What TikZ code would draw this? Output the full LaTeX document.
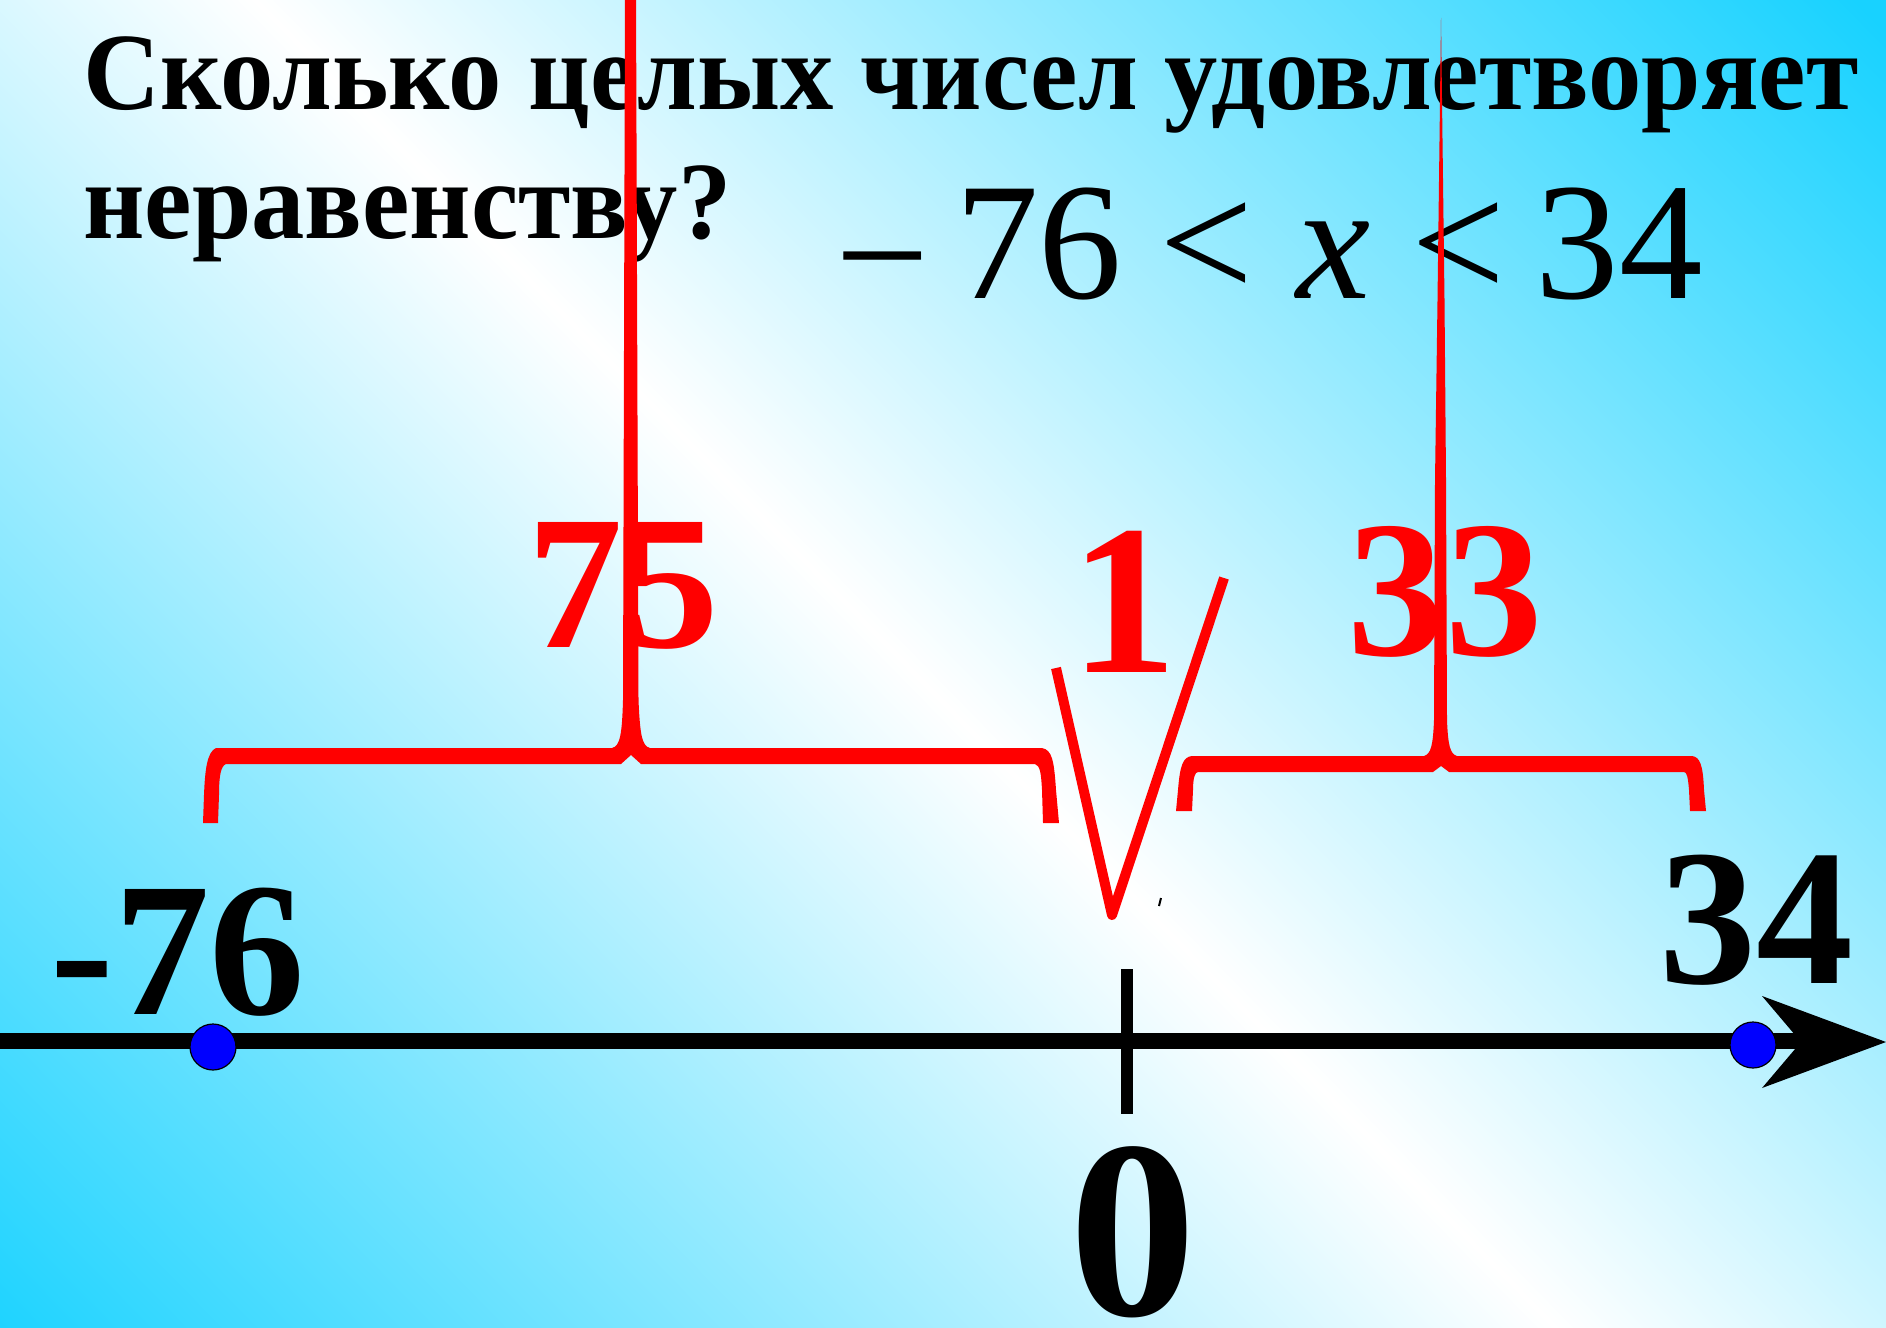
\documentclass[tikz,border=0pt]{standalone}
\usepackage{fontspec}
\setmainfont{Liberation Serif}
\usepackage{graphicx}
\definecolor{bgcyan}{RGB}{24,210,255}
\definecolor{pred}{RGB}{255,0,0}
\definecolor{pblue}{RGB}{0,0,255}
\begin{document}
\begin{tikzpicture}[x=1pt,y=-1pt,
  txt/.style={inner sep=0pt, outer sep=0pt},
  redfill/.style={fill=pred, draw=none},
  redlbl/.style={txt, text=pred, font=\bfseries},
  blklbl/.style={txt, text=black, font=\bfseries},
  dotmark/.style={circle, fill=pblue, draw=black, line width=1.2pt, minimum size=46pt, inner sep=0pt}]
\useasboundingbox (0,0) rectangle (1886,1327);
% background gradient
\begin{scope}
\clip (0,0) rectangle (1886,1327);
\shade[top color=bgcyan, bottom color=bgcyan, middle color=white, shading angle=-45.6]
  (-245,-486.5) rectangle (2055,1813.5);
\end{scope}
% title
\node[txt, anchor=base west] (title1) at (83.5,110)
  {\resizebox{1775pt}{\height}{\fontsize{110}{110}\selectfont\bfseries Сколько целых чисел удовлетворяет}};
\node[txt, anchor=base west] (title2) at (83.5,238)
  {\resizebox{648pt}{\height}{\fontsize{110}{110}\selectfont\bfseries неравенству?}};
% inequality
\node[txt, anchor=base west] (ineq) at (835,298)
  {\fontsize{167}{167}\selectfont \raisebox{-13pt}{−}\hspace{26pt}76\hspace{37pt}<\hspace{43pt}\textit{x}\hspace{41pt}<\hspace{30pt}34};
% red brace 1
\fill[pred] (203,823) -- (204,795) .. controls (205,770) and (207,752) .. (216,748)
  -- (612,748) .. controls (620,746) and (622,735) .. (623,700)
  -- (625,-5) -- (636,-5)
  -- (638.5,700) .. controls (640,735) and (642,746) .. (650,748)
  -- (1042,748) .. controls (1052,750) and (1054,760) .. (1056,790)
  -- (1059,823) -- (1043,823)
  -- (1042,790) .. controls (1041,772) and (1040,766) .. (1035,764)
  -- (641,764) -- (631,755) -- (621,764)
  -- (226,764) .. controls (221,766) and (219,775) .. (219,795)
  -- (218,823) -- cycle;
% red brace 2
\fill[pred] (1176,811) -- (1178,790) .. controls (1180,765) and (1183,757) .. (1192,756)
  -- (1424,756) .. controls (1431,754) and (1433,745) .. (1434,720)
  -- (1435,480) -- (1437.5,300) -- (1440,100) -- (1441,18) -- (1442,100) -- (1444.5,300) -- (1446,480)
  -- (1447,720) .. controls (1448,745) and (1450,754) .. (1457,756)
  -- (1692,756) .. controls (1700,757) and (1703,765) .. (1704,790)
  -- (1706,811) -- (1690,811) -- (1689,790) .. controls (1688,778) and (1687,772) .. (1684,772)
  -- (1449,772) -- (1441,766) -- (1433,772)
  -- (1198,772) .. controls (1195,772) and (1193,778) .. (1193,790)
  -- (1192,811) -- cycle;
% red check mark
\coordinate (vA) at (1056,668);
\coordinate (vB) at (1112,915);
\coordinate (vC) at (1224,578);
\draw[pred, line width=10pt, line join=round] (vA) -- (vB) -- (vC);
\draw[black, line width=2pt] (1159,906) -- (1161,898);
% red labels
\node[redlbl, anchor=base] (l75) at (623,647) {\fontsize{191}{191}\selectfont 75};
\node[redlbl, anchor=base] (l1) at (1124,672) {\fontsize{214}{214}\selectfont 1};
\node[redlbl, anchor=base] (l33) at (1445,655) {\fontsize{195}{195}\selectfont 33};
% number line
\coordinate (axL) at (0,1041);
\coordinate (axN) at (1810,1041);
\draw[black, line width=16pt] (axL) -- (axN);
\coordinate (arT) at (1762,996);
\coordinate (arTip) at (1886,1042);
\coordinate (arB) at (1762,1088);
\coordinate (arN) at (1801,1042);
\fill[black] (arT) -- (arTip) -- (arB) -- (arN) -- cycle;
\coordinate (tickT) at (1127,969);
\coordinate (tickB) at (1127,1114);
\draw[black, line width=12pt] (tickT) -- (tickB);
\node[dotmark] (dotL) at (213,1047) {};
\node[dotmark] (dotR) at (1753,1045) {};
% black labels
\node[blklbl, anchor=base] (lm76) at (178,1014) {\fontsize{191}{191}\selectfont -76};
\node[blklbl, anchor=base] (l34) at (1756,983) {\fontsize{194}{194}\selectfont 34};
\node[blklbl, anchor=base] (l0) at (1133,1315) {\fontsize{254}{254}\selectfont 0};
\end{tikzpicture}
\end{document}
